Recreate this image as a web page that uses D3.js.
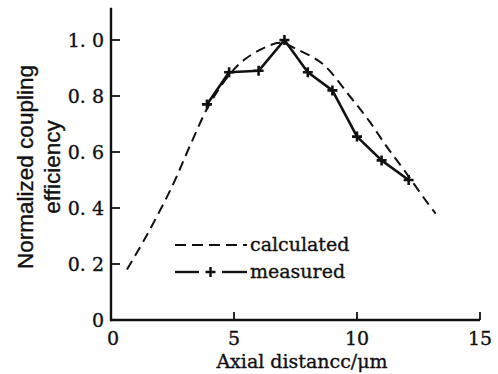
<!DOCTYPE html>
<html>
<head>
<meta charset="utf-8">
<script src="https://cdn.jsdelivr.net/npm/d3@7"></script>
<style>
    body { margin: 0; background: #fff; }
    text { fill: #111; stroke: #111; stroke-width: 0.35px; }
</style>
</head>
<body>
<div id="frame"></div>
<script>
// VARIABLES
const width = 498;
const height = 374;

// data: calculated curve (dashed)
const calcX = [0.65, 1.5, 2.5, 3.2, 4.0, 4.85, 5.5, 6.3, 6.9, 7.6, 8.6, 9.7, 10.5, 11.2, 12.0, 12.85, 13.2];
const calcY = [0.18, 0.31, 0.48, 0.62, 0.77, 0.88, 0.935, 0.975, 0.99, 0.965, 0.915, 0.80, 0.71, 0.62, 0.525, 0.42, 0.38];

// data: measured points
const measX = [3.9, 4.8, 6.0, 7.05, 8.0, 9.0, 10.0, 11.0, 12.1];
const measY = [0.77, 0.885, 0.89, 1.0, 0.885, 0.82, 0.655, 0.57, 0.5];

// ticks
const xTicks = [0, 5, 10, 15];
const yTicks = [0, 0.2, 0.4, 0.6, 0.8, 1.0];
const yTickLabels = ["0", "0. 2", "0. 4", "0. 6", "0. 8", "1. 0"];
const legendLabels = ["calculated", "measured"];

const serif = "'DejaVu Serif', serif";

// define svg
const svg = d3.select("#frame")
    .append("svg")
        .attr("width", width)
        .attr("height", height)
        .attr("viewBox", [0, 0, width, height]);

// scales
const x = d3.scaleLinear().domain([0, 15]).range([111, 480]);
const y = d3.scaleLinear().domain([0, 1]).range([320, 40]);

// axes lines
svg.append("line")
    .attr("x1", x(0)).attr("x2", x(15))
    .attr("y1", y(0)).attr("y2", y(0))
    .attr("stroke", "#111").attr("stroke-width", 2.4);

svg.append("line")
    .attr("x1", x(0)).attr("x2", x(0))
    .attr("y1", y(0) + 1.2).attr("y2", y(1.115))
    .attr("stroke", "#111").attr("stroke-width", 2.4);

// x ticks (inward)
svg.append("g")
    .selectAll("line")
    .data(xTicks.slice(1))
    .enter()
    .append("line")
        .attr("x1", d => x(d)).attr("x2", d => x(d))
        .attr("y1", y(0)).attr("y2", y(0) - 8)
        .attr("stroke", "#111").attr("stroke-width", 1.8);

svg.append("g")
    .selectAll("text")
    .data(xTicks)
    .enter()
    .append("text")
        .attr("x", d => x(d) + (d === 0 ? 2 : 0))
        .attr("y", 345)
        .attr("text-anchor", "middle")
        .style("font-family", serif)
        .style("font-size", "19px")
        .text(d => d);

// y ticks (inward)
svg.append("g")
    .selectAll("line")
    .data(yTicks.slice(1))
    .enter()
    .append("line")
        .attr("x1", x(0)).attr("x2", x(0) + 9)
        .attr("y1", d => y(d)).attr("y2", d => y(d))
        .attr("stroke", "#111").attr("stroke-width", 1.8);

svg.append("g")
    .selectAll("text")
    .data(yTicks)
    .enter()
    .append("text")
        .attr("x", 104)
        .attr("y", d => y(d) + 6.5)
        .attr("text-anchor", "end")
        .style("font-family", serif)
        .style("font-size", "19px")
        .text((d, i) => yTickLabels[i]);

// axis titles
svg.append("text")
    .attr("x", 302)
    .attr("y", 368)
    .attr("text-anchor", "middle")
    .style("font-family", serif)
    .style("font-size", "19px")
    .text("Axial distancc/\u03bcm");

const yTitle = svg.append("text")
    .attr("transform", "translate(0,167) rotate(-90)")
    .attr("text-anchor", "middle")
    .style("font-family", "'Liberation Sans', Arial, sans-serif")
    .style("font-size", "22.5px");
yTitle.append("tspan").attr("x", 0).attr("y", 33).text("Normalized coupling");
yTitle.append("tspan").attr("x", 0).attr("y", 60).text("efficiency");

// calculated curve
const calcData = calcX.map((d, i) => [d, calcY[i]]);
const measData = measX.map((d, i) => [d, measY[i]]);

svg.append("path")
    .datum(calcData)
    .attr("fill", "none")
    .attr("stroke", "#111")
    .attr("stroke-width", 2)
    .attr("stroke-dasharray", "10,6")
    .attr("d", d3.line()
        .x(d => x(d[0]))
        .y(d => y(d[1]))
        .curve(d3.curveCatmullRom));

// measured curve
svg.append("path")
    .datum(measData)
    .attr("fill", "none")
    .attr("stroke", "#111")
    .attr("stroke-width", 2.6)
    .attr("stroke-linejoin", "round")
    .attr("d", d3.line()
        .x(d => x(d[0]))
        .y(d => y(d[1])));

// plus markers
const plus = "M -5 0 L 5 0 M 0 -5 L 0 5";
svg.append("g")
    .selectAll("path")
    .data(measData)
    .enter()
    .append("path")
        .attr("d", plus)
        .attr("transform", d => "translate(" + x(d[0]) + "," + y(d[1]) + ")")
        .attr("stroke", "#111")
        .attr("stroke-width", 2.6);

// legend
svg.append("line")
    .attr("x1", 175).attr("x2", 247)
    .attr("y1", 245).attr("y2", 245)
    .attr("stroke", "#111").attr("stroke-width", 2)
    .attr("stroke-dasharray", "11,6");

svg.append("line")
    .attr("x1", 175).attr("x2", 199)
    .attr("y1", 272).attr("y2", 272)
    .attr("stroke", "#111").attr("stroke-width", 2.4);
svg.append("line")
    .attr("x1", 222).attr("x2", 247)
    .attr("y1", 272).attr("y2", 272)
    .attr("stroke", "#111").attr("stroke-width", 2.4);
svg.append("path")
    .attr("d", plus)
    .attr("transform", "translate(210.5,272)")
    .attr("stroke", "#111")
    .attr("stroke-width", 2.4);

svg.append("g")
    .selectAll("text")
    .data(legendLabels)
    .enter()
    .append("text")
        .attr("x", 250)
        .attr("y", (d, i) => 251 + i * 27)
        .style("font-family", serif)
        .style("font-size", "19px")
        .text(d => d);
</script>
</body>
</html>
